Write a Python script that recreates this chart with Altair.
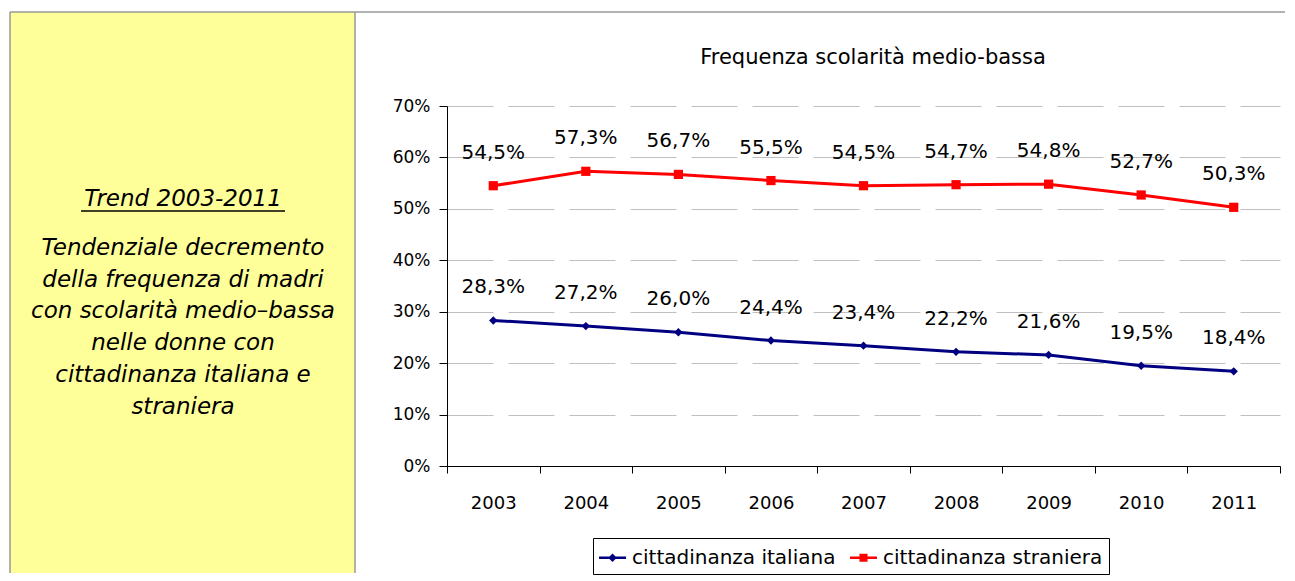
import altair as alt
import pandas as pd

years = ["2003", "2004", "2005", "2006", "2007", "2008", "2009", "2010", "2011"]
italiana = [28.3, 27.2, 26.0, 24.4, 23.4, 22.2, 21.6, 19.5, 18.4]
straniera = [54.5, 57.3, 56.7, 55.5, 54.5, 54.7, 54.8, 52.7, 50.3]
series_names = ["cittadinanza italiana", "cittadinanza straniera"]
series_colors = ["#000080", "#FF0000"]
y_ticks = [0, 10, 20, 30, 40, 50, 60, 70]
chart_title = "Frequenza scolarità medio-bassa"
panel_title = "Trend 2003-2011"
panel_lines = [
    "Tendenziale decremento",
    "della frequenza di madri",
    "con scolarità medio–bassa",
    "nelle donne con",
    "cittadinanza italiana e",
    "straniera",
]

rows = []
for name, vals in zip(series_names, [italiana, straniera]):
    for yr, v in zip(years, vals):
        rows.append({"year": yr, "series": name, "value": v,
                     "label": f"{v:.1f}%".replace(".", ",")})
df = pd.DataFrame(rows)
one = pd.DataFrame({"k": [0]})

W, H = 833, 360
FONT = "DejaVu Sans"

legend_paths = [
    "M-1,-0.1H1V0.1H-1Z M0,-0.32L0.32,0L0,0.32L-0.32,0Z",
    "M-1,-0.1H1V0.1H-1Z M-0.3,-0.3H0.3V0.3H-0.3Z",
]

x_enc = alt.X("year:N", sort=years, bandPosition=0.5,
              scale=alt.Scale(type="band", paddingInner=0, paddingOuter=0),
              axis=alt.Axis(title=None, labelAngle=0, tickBand="extent", grid=False,
                            domainColor="black", tickColor="black", tickSize=7,
                            labelFontSize=18, labelPadding=21, labelColor="black",
                            labelFont=FONT))
y_enc = alt.Y("value:Q", scale=alt.Scale(domain=[0, 70]),
              axis=alt.Axis(title=None, values=y_ticks, labelExpr="datum.value + '%'",
                            domainColor="black", tickColor="black", tickSize=8,
                            labelFontSize=17, labelPadding=9, labelColor="black",
                            labelFont=FONT, grid=True, gridColor="#BFBFBF",
                            gridDash=[46, 15]))
color_scale = alt.Scale(domain=series_names, range=series_colors)

base = alt.Chart(df)

leg = alt.Legend(title=None, orient="none", legendX=146, legendY=432,
                 direction="horizontal", strokeColor="black", padding=6,
                 labelFontSize=20, labelFont=FONT, labelColor="black",
                 symbolSize=729, symbolStrokeWidth=0, labelOffset=6,
                 columnPadding=14, labelLimit=400, fillColor="white")

legend_layer = base.transform_filter("false").mark_point(filled=True, opacity=1).encode(
    x=x_enc, y=y_enc,
    color=alt.Color("series:N", scale=color_scale, legend=leg),
    shape=alt.Shape("series:N", scale=alt.Scale(domain=series_names, range=legend_paths),
                    legend=leg))

lines = base.mark_line(strokeWidth=3).encode(
    x=x_enc, y=y_enc, color=alt.Color("series:N", scale=color_scale, legend=None))

pts_it = base.transform_filter(alt.datum.series == series_names[0]).mark_point(
    shape="diamond", filled=True, size=70, opacity=1).encode(
    x=x_enc, y=y_enc, color=alt.Color("series:N", scale=color_scale, legend=None))

pts_st = base.transform_filter(alt.datum.series == series_names[1]).mark_point(
    shape="square", filled=True, size=85, opacity=1).encode(
    x=x_enc, y=y_enc, color=alt.Color("series:N", scale=color_scale, legend=None))

labels = base.mark_text(fontSize=20, font=FONT, dy=-33, baseline="middle",
                        color="black").encode(x=x_enc, y=y_enc, text="label:N")

# decorative frame and texts (pixel offsets from the plot origin)
panel = alt.Chart(one).mark_rect(fill="#FFFF99").encode(
    x=alt.value(-437), x2=alt.value(-92), y=alt.value(-94), y2=alt.value(467))
rule_left = alt.Chart(one).mark_rule(color="#999999", strokeWidth=1.5).encode(
    x=alt.value(-437), y=alt.value(-94), y2=alt.value(467))
rule_div = alt.Chart(one).mark_rule(color="#999999", strokeWidth=1.5).encode(
    x=alt.value(-92), y=alt.value(-94), y2=alt.value(467))
rule_top = alt.Chart(one).mark_rule(color="#999999", strokeWidth=1.5).encode(
    x=alt.value(-437), x2=alt.value(838), y=alt.value(-94))
ptitle = alt.Chart(one).mark_text(font=FONT, fontStyle="italic", fontSize=23,
                                  color="black", align="center",
                                  baseline="alphabetic").encode(
    x=alt.value(-264), y=alt.value(100), text=alt.value(panel_title))
underline = alt.Chart(one).mark_rule(color="black", strokeWidth=1.3).encode(
    x=alt.value(-366), x2=alt.value(-162), y=alt.value(105))
ptext = alt.Chart(one).mark_text(font=FONT, fontStyle="italic", fontSize=23,
                                 color="black", align="center", baseline="alphabetic",
                                 lineHeight=31.7).encode(
    x=alt.value(-264), y=alt.value(149), text=alt.value(panel_lines))
ctitle = alt.Chart(one).mark_text(font=FONT, fontSize=21, color="black",
                                  align="center", baseline="middle").encode(
    x=alt.value(426), y=alt.value(-48), text=alt.value(chart_title))

chart = alt.layer(
    panel, rule_left, rule_div, rule_top, ptitle, underline, ptext, ctitle,
    legend_layer, lines, pts_it, pts_st, labels
).properties(
    width=W, height=H,
    padding={"left": 1, "top": 3, "right": 0, "bottom": 0},
).configure_view(strokeWidth=0)

chart.save("out.html", embed_options={"renderer": "svg", "actions": False})
